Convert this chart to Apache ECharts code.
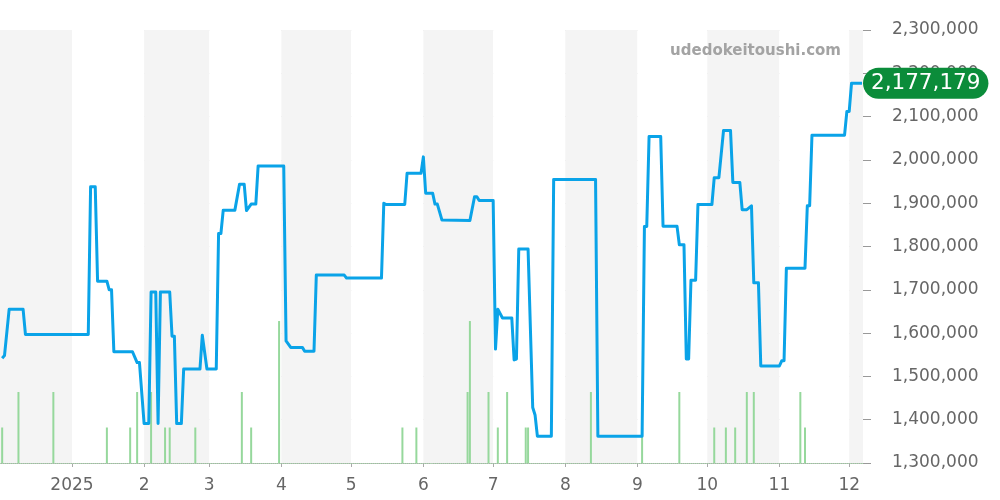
<!DOCTYPE html>
<html>
<head>
<meta charset="utf-8">
<script src="https://cdn.jsdelivr.net/npm/echarts@6/dist/echarts.min.js"></script>
<style>
html,body{margin:0;padding:0;background:#fff;}
#chart{width:1000px;height:500px;}
</style>
</head>
<body>
<div id="chart"></div>
<script>
// ---- data ----
const priceDates = [
  '2024-12-02','2024-12-03','2024-12-05','2024-12-11','2024-12-12',
  '2025-01-08','2025-01-09','2025-01-11','2025-01-12','2025-01-16','2025-01-17','2025-01-18','2025-01-19','2025-01-27','2025-01-29','2025-01-30',
  '2025-02-01','2025-02-03','2025-02-04','2025-02-06','2025-02-07','2025-02-08','2025-02-12','2025-02-13','2025-02-14','2025-02-15','2025-02-17','2025-02-18','2025-02-25','2025-02-26','2025-02-28',
  '2025-03-04','2025-03-05','2025-03-06','2025-03-07','2025-03-12','2025-03-14','2025-03-16','2025-03-17','2025-03-19','2025-03-21','2025-03-22',
  '2025-04-02','2025-04-03','2025-04-05','2025-04-10','2025-04-11','2025-04-15','2025-04-16','2025-04-28','2025-04-29',
  '2025-05-14','2025-05-15','2025-05-16','2025-05-24','2025-05-25','2025-05-31',
  '2025-06-01','2025-06-02','2025-06-05','2025-06-06','2025-06-07','2025-06-09','2025-06-21','2025-06-23','2025-06-24','2025-06-25','2025-07-01',
  '2025-07-02','2025-07-03','2025-07-05','2025-07-09','2025-07-10','2025-07-11','2025-07-12','2025-07-16','2025-07-18','2025-07-19','2025-07-20','2025-07-26','2025-07-27',
  '2025-08-14','2025-08-15',
  '2025-09-03','2025-09-04','2025-09-05','2025-09-06','2025-09-11','2025-09-12','2025-09-18','2025-09-19','2025-09-21','2025-09-22','2025-09-23','2025-09-24','2025-09-26','2025-09-27',
  '2025-10-03','2025-10-04','2025-10-06','2025-10-08','2025-10-11','2025-10-12','2025-10-15','2025-10-16','2025-10-18','2025-10-20','2025-10-21','2025-10-23','2025-10-24',
  '2025-11-01','2025-11-02','2025-11-03','2025-11-04','2025-11-12','2025-11-13','2025-11-14','2025-11-15','2025-11-29','2025-11-30',
  '2025-12-01','2025-12-02','2025-12-06T12:00:00'
];
const priceValues = [
  1542000,1548000,1655000,1655000,1597000,
  1597000,1938000,1938000,1720000,1720000,1700000,1700000,1557000,1557000,1532000,1532000,
  1391000,1391000,1695000,1695000,1391000,1695000,1695000,1593000,1593000,1391000,1391000,1517000,1517000,1595000,1517000,
  1517000,1830000,1830000,1884000,1884000,1944000,1944000,1883000,1898000,1898000,1986000,
  1986000,1582000,1567000,1567000,1558000,1558000,1734000,1734000,1727000,
  1727000,1900000,1897000,1897000,1969000,1969000,
  2007000,1923000,1923000,1898000,1898000,1861000,1860000,1915000,1915000,1906000,1906000,
  1563000,1655000,1635000,1635000,1538000,1540000,1794000,1794000,1428000,1411000,1362000,1362000,1955000,
  1955000,1362000,
  1362000,1846000,1846000,2054000,2054000,1847000,1847000,1804000,1804000,1540000,1540000,1722000,1722000,1897000,
  1897000,1959000,1959000,2068000,2068000,1948000,1948000,1885000,1885000,1894000,1716000,1716000,1524000,
  1524000,1536000,1536000,1750000,1750000,1894000,1894000,2057000,2057000,2112000,
  2112000,2177179,2177179
];
const volumeDates = [
  '2024-12-02','2024-12-09','2024-12-24',
  '2025-01-16','2025-01-26','2025-01-29',
  '2025-02-04','2025-02-10','2025-02-12','2025-02-23',
  '2025-03-15','2025-03-19','2025-03-31',
  '2025-05-23','2025-05-29',
  '2025-06-20','2025-06-21','2025-06-29',
  '2025-07-03','2025-07-07','2025-07-15','2025-07-16',
  '2025-08-12',
  '2025-09-03','2025-09-19',
  '2025-10-04','2025-10-09','2025-10-13','2025-10-18','2025-10-21',
  '2025-11-10','2025-11-12'
];
const volumeValues = [
  1,2,2,
  1,1,2,
  2,1,1,1,
  2,1,4,
  1,1,
  2,4,2,
  1,2,1,1,
  2,
  1,2,
  1,1,1,2,2,
  2,1
];
const yTickMin = 1300000, yTickMax = 2300000, yTickStep = 100000;
const axisStart = '2024-12-01T12:00:00', axisEnd = '2025-12-06T12:00:00';
const watermark = 'udedokeitoushi.com';

// ---- chart ----
const FONT = 'DejaVu Sans';
const chart = echarts.init(document.getElementById('chart'), null, {renderer: 'canvas'});
const priceData = priceDates.map((d, i) => [d, priceValues[i]]);
const volumeData = volumeDates.map((d, i) => [d, volumeValues[i]]);

chart.setOption({
  animation: false,
  backgroundColor: '#ffffff',
  textStyle: {fontFamily: FONT},
  grid: {left: 0, right: 137, top: 30, bottom: 37, containLabel: false},
  graphic: [{
    type: 'text', right: 159, top: 44, z: 10,
    style: {text: watermark, fill: '#a3a3a3', font: 'bold 15px "DejaVu Sans"'}
  }],
  xAxis: {
    type: 'time',
    min: axisStart, max: axisEnd,
    splitNumber: 12,
    minInterval: 28 * 86400000,
    maxInterval: 31 * 86400000,
    axisLine: {show: true, lineStyle: {color: '#aaaaaa', width: 1}},
    axisTick: {show: true, length: 4, lineStyle: {color: '#aaaaaa'}},
    axisLabel: {
      color: '#666666', fontSize: 17, fontFamily: FONT, margin: 14,
      formatter: function (val) {
        const d = new Date(val);
        return d.getMonth() === 0 ? String(d.getFullYear()) : String(d.getMonth() + 1);
      }
    },
    splitLine: {show: false},
    splitArea: {show: true, areaStyle: {color: ['#f4f4f4', '#ffffff']}}
  },
  yAxis: [{
    type: 'value', position: 'right',
    min: yTickMin, max: yTickMax, interval: yTickStep,
    axisLine: {show: false},
    axisTick: {show: true, length: 8, lineStyle: {color: '#999999'}},
    axisLabel: {
      color: '#666666', fontSize: 17, fontFamily: FONT, margin: 29,
      formatter: v => v.toLocaleString('en-US')
    },
    splitLine: {show: true, lineStyle: {color: '#e0e0e0', width: 1}}
  }, {
    type: 'value', min: 0, max: 12.2, show: false,
    splitLine: {show: false}
  }],
  series: [{
    type: 'bar', yAxisIndex: 1, data: volumeData, barWidth: 2,
    itemStyle: {color: '#96d89c'}, z: 2,
    markLine: {
      silent: true, symbol: ['none', 'none'],
      label: {show: false},
      lineStyle: {color: '#a8dcac', type: 'dotted', width: 1},
      data: [{yAxis: 0}]
    }
  }, {
    type: 'line', data: priceData, showSymbol: false, symbol: 'none', z: 5,
    lineStyle: {color: '#0aa3e8', width: 3, join: 'round'},
    itemStyle: {color: '#0aa3e8'},
    endLabel: {
      show: true, distance: 1,
      formatter: p => p.value[1].toLocaleString('en-US'),
      color: '#ffffff', fontSize: 21.5, fontFamily: FONT,
      backgroundColor: '#0b8c3a', borderRadius: 16, padding: [5, 8, 4, 8]
    }
  }]
});
</script>
</body>
</html>
